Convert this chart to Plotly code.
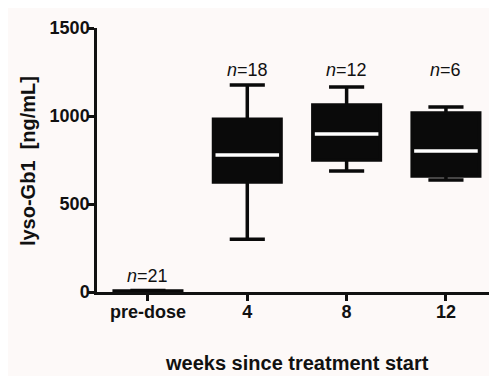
import plotly.graph_objects as go

categories = ["pre-dose", "4", "8", "12"]
lower_whisker = [0, 300, 688, 636]
q1_vals = [0, 625, 750, 659]
median_vals = [3, 778, 898, 801]
q3_vals = [6, 982, 1062, 1017]
upper_whisker = [8, 1176, 1165, 1051]
n_labels = ["21", "18", "12", "6"]
n_label_y = [90, 1262, 1262, 1262]
y_ticks = [0, 500, 1000, 1500]

xpos = list(range(len(categories)))
FONT = "Liberation Sans, Arial, Helvetica, sans-serif"
BG = "#fdf9f8"
BOXW = 0.68

fig = go.Figure()
fig.add_trace(go.Box(
    x=xpos, q1=q1_vals, median=median_vals, q3=q3_vals,
    lowerfence=lower_whisker, upperfence=upper_whisker,
    width=BOXW, whiskerwidth=0.52,
    fillcolor="#0a0a0a", line=dict(color="#0a0a0a", width=3.5),
    boxpoints=False, showlegend=False, hoverinfo="skip",
))

# white median lines (skip pre-dose where box is flat)
mx, my = [], []
for i, m in enumerate(median_vals):
    if q3_vals[i] - q1_vals[i] > 50:
        mx += [i - BOXW / 2 + 0.02, i + BOXW / 2 - 0.02, None]
        my += [m, m, None]
fig.add_trace(go.Scatter(x=mx, y=my, mode="lines",
                         line=dict(color="white", width=3.5),
                         showlegend=False, hoverinfo="skip"))

annotations = []
for i, (n, yy) in enumerate(zip(n_labels, n_label_y)):
    annotations.append(dict(
        x=i, y=yy, xref="x", yref="y", showarrow=False,
        text="<i>n</i>=" + n, font=dict(family=FONT, size=18, color="#111"),
        yanchor="middle"))

annotations.append(dict(
    x=-0.1725, y=0.496, xref="paper", yref="paper", showarrow=False,
    text="lyso-Gb1 &nbsp;[ng/mL]", textangle=-90,
    font=dict(family=FONT, size=20, color="#111", weight="bold"),
    xanchor="center", yanchor="middle"))
annotations.append(dict(
    x=0.5, y=-0.269, xref="paper", yref="paper", showarrow=False,
    text="weeks since treatment start",
    font=dict(family=FONT, size=20, color="#111", weight="bold"),
    xanchor="center", yanchor="middle"))

fig.update_layout(
    width=497, height=376,
    margin=dict(l=89, r=8, t=20, b=92),
    paper_bgcolor=BG, plot_bgcolor=BG,
    annotations=annotations,
    xaxis=dict(range=[-0.513, 3.514], tickmode="array", tickvals=xpos,
               ticktext=categories, showgrid=False, zeroline=False,
               showline=True, linecolor="#111", linewidth=2.5,
               ticks="outside", ticklen=6, tickwidth=2.5, tickcolor="#111",
               ticklabelstandoff=-4,
               tickfont=dict(family=FONT, size=18, color="#111", weight="bold")),
    yaxis=dict(range=[0, 1500], tickmode="array", tickvals=y_ticks,
               showgrid=False, zeroline=False,
               showline=True, linecolor="#111", linewidth=2.5,
               ticks="outside", ticklen=6, tickwidth=2.5, tickcolor="#111",
               ticklabelstandoff=-5,
               tickfont=dict(family=FONT, size=18, color="#111", weight="bold")),
)

fig.write_html("out.html")
